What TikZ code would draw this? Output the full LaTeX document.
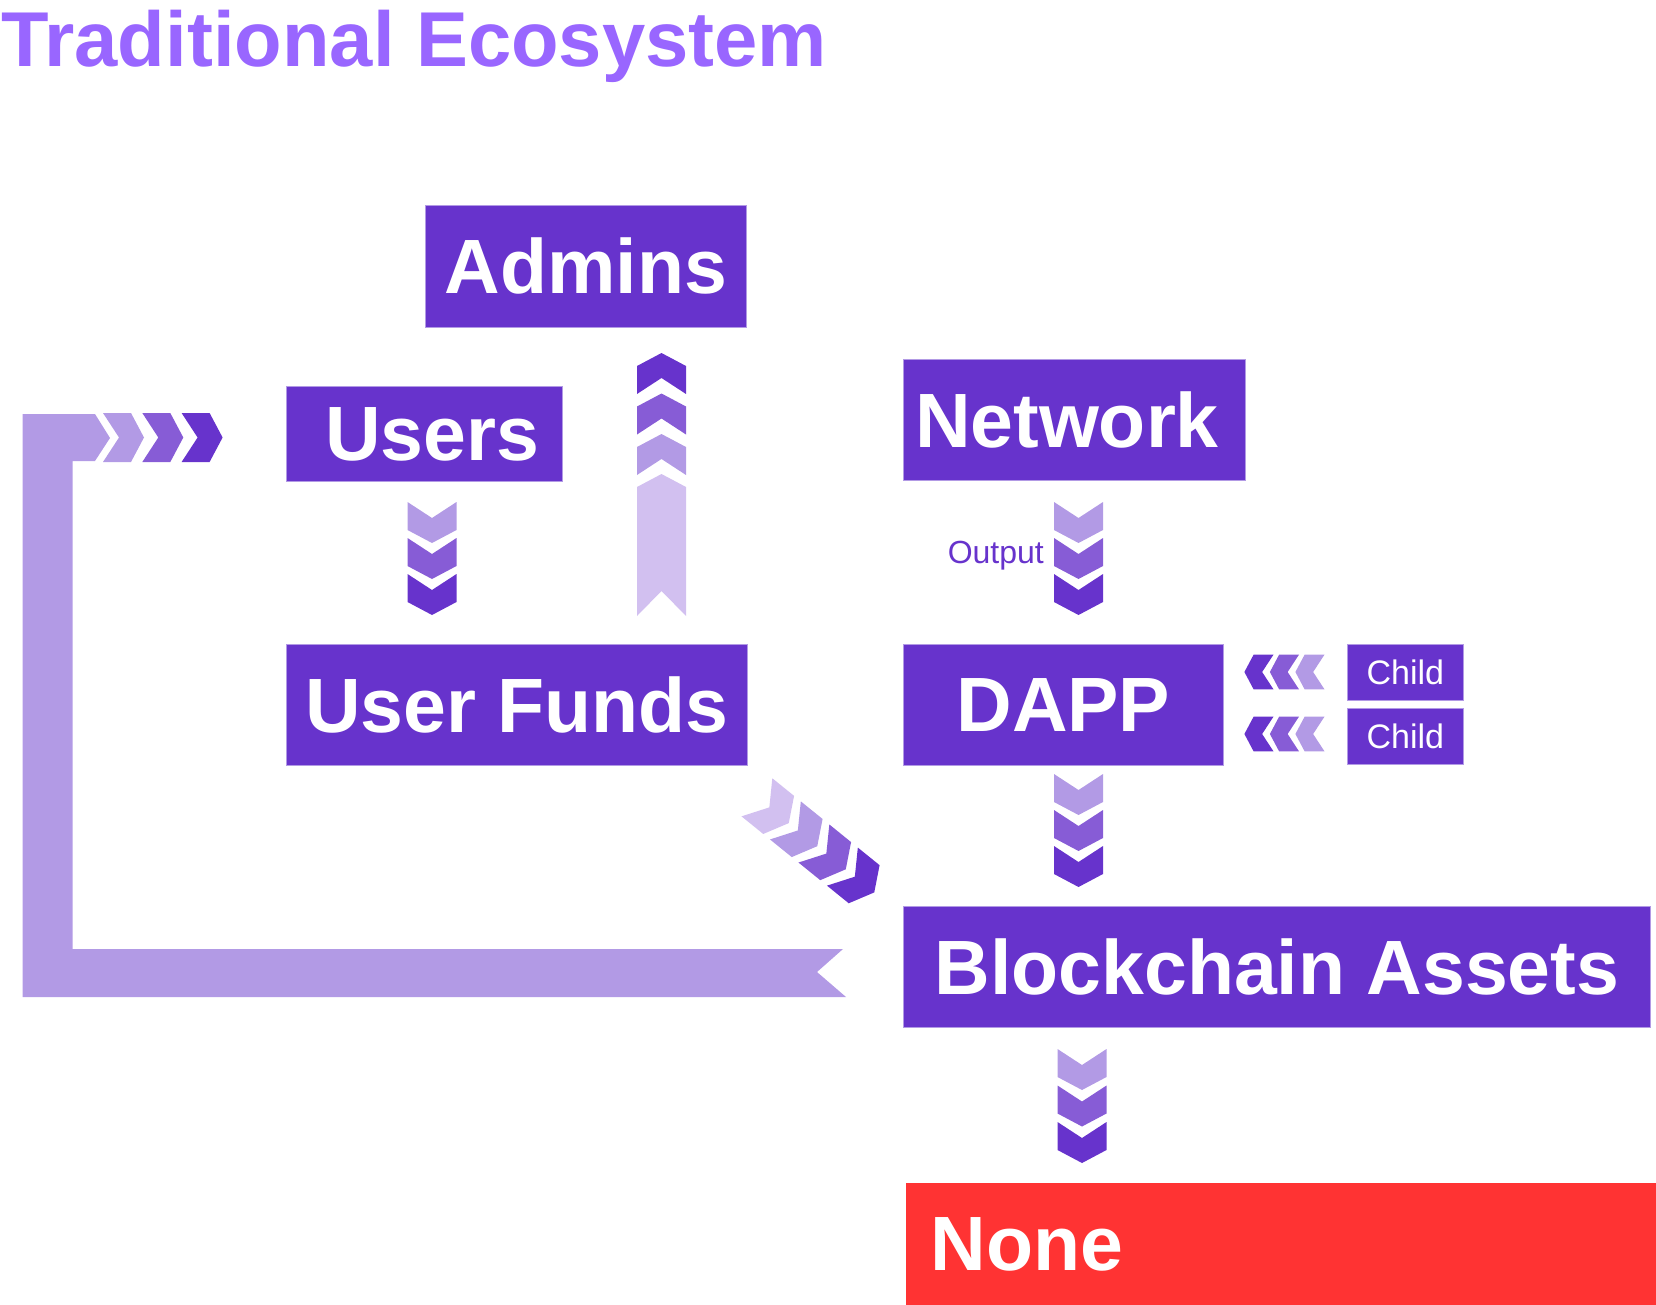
\documentclass[tikz,border=0pt]{standalone}
\usepackage{fontspec}
\setmainfont{Liberation Sans}
\definecolor{purDark}{HTML}{6733CC}
\definecolor{purMid}{HTML}{875CD6}
\definecolor{purLight}{HTML}{B29AE5}
\definecolor{purPale}{HTML}{D2C0F0}
\definecolor{purTitle}{HTML}{9966FF}
\definecolor{redNone}{HTML}{FF3333}
\tikzset{
  box/.style={fill=purDark, draw=purLight, line width=0.8pt, text=white, inner sep=0pt,
    anchor=north west, font=\bfseries\fontsize{77}{80}\selectfont},
  childbox/.style={box, font=\fontsize{34}{36}\selectfont},
  chev/.pic={\fill (-24.5,0) -- (0,16) -- (24.5,0) -- (24.5,28) -- (0,41) -- (-24.5,28) -- cycle;}
}
\begin{document}
\begin{tikzpicture}[x=1pt,y=-1pt]
        \useasboundingbox (0,0) rectangle (1656,1305);
        %% Title
        \node[anchor=base west, inner sep=0pt, text=purTitle, font=\bfseries\fontsize{77.8}{80}\selectfont] (title) at (1,67) {Traditional Ecosystem};
        %% Boxes
        \node[box, minimum width=321, minimum height=122] (admins) at (425,205) {Admins};
        \node[box, minimum width=276, minimum height=95] (users) at (286,386) {\hspace*{16pt}Users};
        \node[box, minimum width=461, minimum height=121] (funds) at (286,644) {User Funds};
        \node[box, minimum width=342, minimum height=121] (network) at (903,359) {Network\hspace*{15pt}};
        \node[box, minimum width=320, minimum height=121] (dapp) at (903,644) {DAPP};
        \node[childbox, minimum width=116, minimum height=56] (childA) at (1347,644) {Child};
        \node[childbox, minimum width=116, minimum height=56] (childB) at (1347,708) {Child};
        \node[box, minimum width=747, minimum height=121] (assets) at (903,906) {Blockchain Assets};
        \node[box, fill=redNone, draw=none, inner xsep=24pt, text width=702pt, align=left, minimum height=122] (none) at (906,1183) {None};
        \node[anchor=base east, inner sep=0pt, text=purDark, font=\fontsize{32}{34}\selectfont] (output) at (1044,563) {Output};
        %% Return bracket
        \fill[purLight] (22.7,414) -- (95,414) -- (110,438) -- (95,461) -- (72.7,461) -- (72.7,949)
          -- (843,949) -- (817,972) -- (846,997) -- (22.7,997) -- cycle;
        \foreach \c [count=\i from 0] in {purLight,purMid,purDark}
          \pic[fill=\c, rotate=90] at (103+39.3*\i,437.5) {chev};
        %% Users to User Funds
        \foreach \c [count=\i from 0] in {purLight,purMid,purDark}
          \pic[fill=\c] at (432,502+36*\i) {chev};
        %% Up to Admins
        \foreach \c [count=\i from 0] in {purDark,purMid,purLight}
          \pic[fill=\c, rotate=180] at (661.5,394+40.5*\i) {chev};
        \fill[purPale] (637,487) -- (661.5,474) -- (686,487) -- (686,616) -- (661.5,591) -- (637,616) -- cycle;
        %% Network to DAPP
        \foreach \c [count=\i from 0] in {purLight,purMid,purDark}
          \pic[fill=\c] at (1078.5,502+36*\i) {chev};
        %% Children to DAPP
        \foreach \c [count=\i from 0] in {purDark,purMid,purLight} {
          \pic[fill=\c, rotate=-90, scale=0.71] at (1273.5+25.5*\i,672) {chev};
          \pic[fill=\c, rotate=-90, scale=0.71] at (1273.5+25.5*\i,734) {chev};
        }
        %% User Funds to Blockchain Assets
        \foreach \c [count=\i from 0] in {purPale,purLight,purMid,purDark}
          \pic[fill=\c, rotate=51] at (756.9+28.5*\i,797.3+23.1*\i) {chev};
        %% DAPP to Blockchain Assets
        \foreach \c [count=\i from 0] in {purLight,purMid,purDark}
          \pic[fill=\c] at (1078.5,774+36*\i) {chev};
        %% Blockchain Assets to None
        \foreach \c [count=\i from 0] in {purLight,purMid,purDark}
          \pic[fill=\c] at (1082,1049+36.5*\i) {chev};
\end{tikzpicture}
\end{document}
